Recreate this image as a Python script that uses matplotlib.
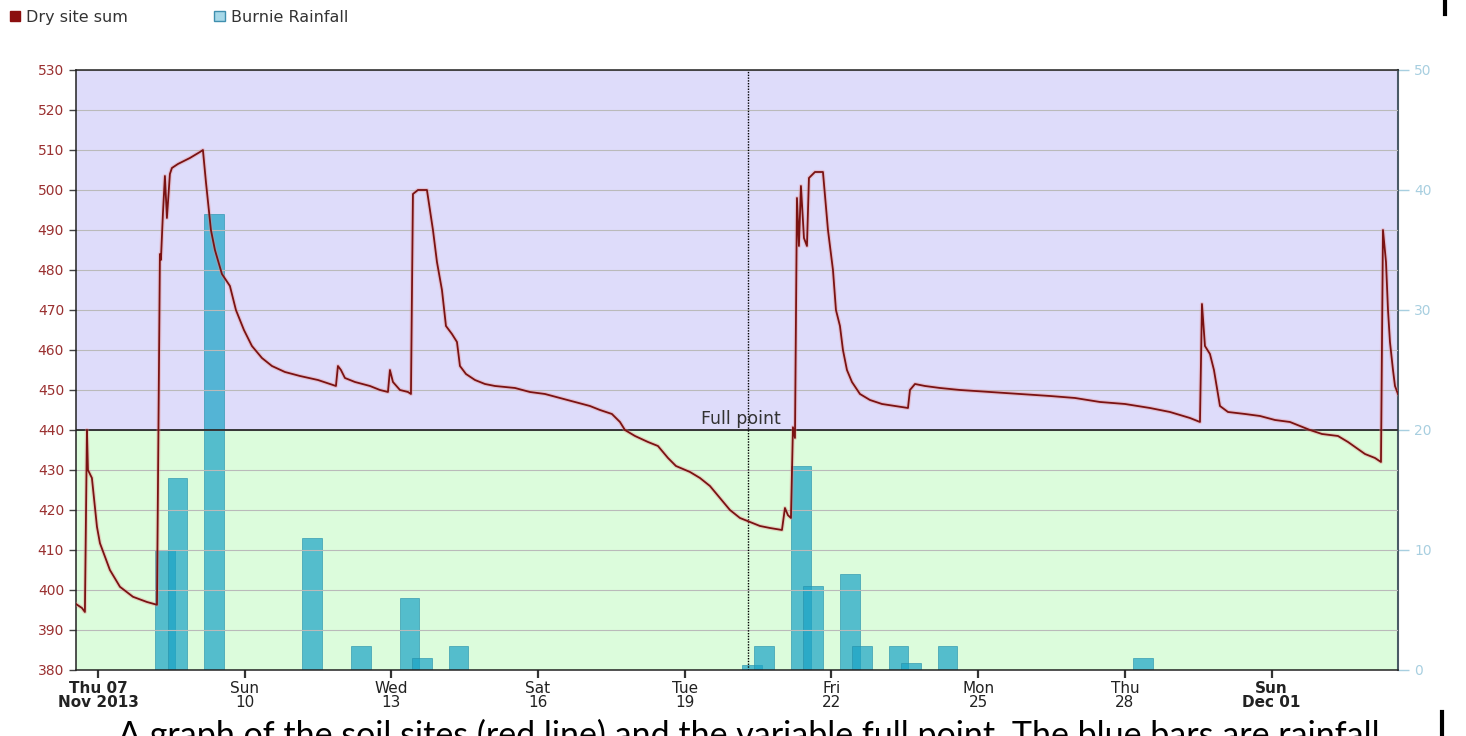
import numpy as np
import matplotlib
matplotlib.use('Agg')
import matplotlib.pyplot as plt
from matplotlib.patches import Patch, Rectangle
from matplotlib.lines import Line2D
from matplotlib.transforms import blended_transform_factory

plt.rcParams['font.family'] = ['DejaVu Sans']

# ---- data (x values are day-of-November 2013, 31 = Dec 01) ----
moist_day = [6.550, 6.673, 6.734, 6.775, 6.796, 6.877, 6.980, 7.041, 7.245, 7.450,
             7.716, 8.002, 8.207, 8.268, 8.288, 8.329, 8.370, 8.411, 8.472, 8.513,
             8.636, 8.881, 9.086, 9.147, 9.209, 9.311, 9.393, 9.536, 9.699, 9.822,
             9.986, 10.149, 10.354, 10.558, 10.824, 11.131, 11.499, 11.744, 11.867, 11.908,
             11.969, 12.051, 12.256, 12.562, 12.767, 12.931, 12.971, 13.033, 13.176, 13.340,
             13.401, 13.442, 13.544, 13.728, 13.851, 13.933, 14.035, 14.117, 14.239, 14.342,
             14.403, 14.526, 14.710, 14.914, 15.119, 15.528, 15.834, 16.141, 16.448, 16.755,
             17.061, 17.266, 17.511, 17.675, 17.777, 17.982, 18.248, 18.452, 18.657, 18.820,
             19.107, 19.311, 19.515, 19.720, 19.924, 20.129, 20.333, 20.538, 20.742, 20.988,
             21.049, 21.110, 21.172, 21.213, 21.254, 21.295, 21.335, 21.376, 21.438, 21.499,
             21.540, 21.663, 21.826, 21.929, 22.031, 22.092, 22.174, 22.235, 22.317, 22.419,
             22.583, 22.787, 23.033, 23.299, 23.565, 23.605, 23.708, 23.912, 24.219, 24.628,
             25.241, 25.855, 26.468, 26.980, 27.491, 28.002, 28.513, 28.922, 29.331, 29.536,
             29.577, 29.638, 29.740, 29.822, 29.904, 29.945, 30.109, 30.456, 30.763, 31.070,
             31.376, 31.581, 31.785, 32.031, 32.358, 32.563, 32.910, 33.115, 33.237, 33.278,
             33.340, 33.381, 33.421, 33.483, 33.524, 33.585]
moist_val = [396.5, 395.5, 394.5, 440.0, 430.0, 428.0, 415.8, 411.7, 405.0, 400.8,
             398.3, 397.0, 396.3, 484.0, 482.5, 494.0, 503.5, 493.0, 504.0, 505.5,
             506.5, 508.0, 509.5, 510.0, 502.0, 490.0, 485.0, 479.0, 476.0, 470.0,
             465.0, 461.0, 458.0, 456.0, 454.5, 453.5, 452.5, 451.5, 451.0, 456.0,
             455.0, 453.0, 452.0, 451.0, 450.0, 449.5, 455.0, 452.0, 450.0, 449.5,
             449.0, 499.0, 500.0, 500.0, 490.0, 482.0, 475.0, 466.0, 464.0, 462.0,
             456.0, 454.0, 452.5, 451.5, 451.0, 450.5, 449.5, 449.0, 448.0, 447.0,
             446.0, 445.0, 444.0, 442.0, 440.0, 438.5, 437.0, 436.0, 433.0, 431.0,
             429.5, 428.0, 426.0, 423.0, 420.0, 418.0, 417.0, 416.0, 415.5, 415.0,
             420.5, 418.7, 418.0, 440.7, 438.0, 498.0, 486.0, 501.0, 488.0, 486.0,
             503.0, 504.5, 504.5, 490.0, 480.0, 470.0, 466.0, 460.0, 455.0, 452.0,
             449.0, 447.5, 446.5, 446.0, 445.5, 450.0, 451.5, 451.0, 450.5, 450.0,
             449.5, 449.0, 448.5, 448.0, 447.0, 446.5, 445.5, 444.5, 443.0, 442.0,
             471.5, 461.0, 459.0, 455.0, 449.0, 446.0, 444.5, 444.0, 443.5, 442.5,
             442.0, 441.0, 440.0, 439.0, 438.5, 437.0, 434.0, 433.0, 432.0, 490.0,
             482.0, 470.0, 462.0, 455.0, 451.0, 449.0]

# rainfall (mm): 9am readings and 3pm readings
rain_day = [8.375, 9.375, 11.375, 12.375, 13.375, 14.375, 20.375, 21.375, 22.375,
            23.375, 24.375, 28.375,
            8.625, 13.625, 20.625, 21.625, 22.625, 23.625]
rain_mm = [10, 38, 11, 2, 6, 2, 0.4, 17, 8, 2, 2, 1,
           16, 1, 2, 7, 2, 0.6]

full_point = 440
marker_day = 20.29
x_range = [6.55, 33.585]

tick_day = [7, 10, 13, 16, 19, 22, 25, 28, 31]
tick_labels = ['Thu 07\nNov 2013', 'Sun\n10', 'Wed\n13', 'Sat\n16', 'Tue\n19',
               'Fri\n22', 'Mon\n25', 'Thu\n28', 'Sun\nDec 01']

caption = ('A graph of the soil sites (red line) and the variable full point. '
           'The blue bars are rainfall')


def to_time(days):
    base = np.datetime64('2013-10-31T00:00')
    return base + (np.asarray(days, dtype=float) * 24 * 60).astype('timedelta64[m]')


fig = plt.figure(figsize=(14.66, 7.36), dpi=100)
ax = fig.add_axes([0.0518, 0.0897, 0.9018, 0.8152])
ax2 = ax.twinx()
ax.set_zorder(ax2.get_zorder() + 1)
ax.patch.set_visible(False)

# background bands (left axis units) drawn behind the bars
band = blended_transform_factory(ax2.transAxes, ax.transData)
ax2.add_patch(Rectangle((0, 380), 1, full_point - 380, transform=band,
                        facecolor='#dcfcdc', edgecolor='none', zorder=0))
ax2.add_patch(Rectangle((0, full_point), 1, 530 - full_point, transform=band,
                        facecolor='#dedcfa', edgecolor='none', zorder=0))

# rainfall bars
ax2.bar(to_time(rain_day), rain_mm, width=0.4, color='#1aa3c6', alpha=0.7,
        edgecolor='#2590aa', linewidth=0.6, zorder=2)
ax2.set_ylim(0, 50)
ax2.set_yticks(range(0, 51, 10))
ax2.tick_params(axis='y', colors='#a8cfe0', labelsize=10, length=8, width=1)
for s in ['top', 'left', 'bottom']:
    ax2.spines[s].set_visible(False)
ax2.spines['right'].set_color('#4a5a66')
ax2.spines['right'].set_linewidth(1.5)

# soil moisture line
t = to_time(moist_day)
ax.plot(t, moist_val, color='#e88a8a', lw=3.0, alpha=0.35, zorder=3)
ax.plot(t, moist_val, color='#7a1212', lw=1.3, zorder=4)

ax.axhline(full_point, color='#2a2a2a', lw=1.3, zorder=2)
ax.text(to_time([20.15])[0], full_point + 0.5, 'Full point', ha='center', va='bottom',
        fontsize=12.5, color='#333333', zorder=5)
ax.axvline(to_time([marker_day])[0], color='black', lw=1, ls=(0, (1, 1)), zorder=2)

ax.set_ylim(380, 530)
ax.set_yticks(range(380, 531, 10))
ax.grid(axis='y', color='#bababa', lw=0.8)
ax.grid(axis='x', visible=False)
ax.tick_params(axis='y', colors='#9a3030', labelsize=10, length=5, width=1)
ax.tick_params(axis='y', color='#444444')

ax.set_xlim(to_time(x_range))
ax.set_xticks(to_time(tick_day))
ax.set_xticklabels(tick_labels, fontsize=11, color='#222222', linespacing=0.95)
ax.tick_params(axis='x', length=6, width=1.6, color='#333333', pad=2)
for lab in (ax.get_xticklabels()[0], ax.get_xticklabels()[-1]):
    lab.set_fontweight('bold')

for s in ['top', 'left', 'bottom']:
    ax.spines[s].set_color('#222222')
    ax.spines[s].set_linewidth(1.1)
ax.spines['right'].set_visible(False)

# legend
handles = [Patch(facecolor='#8b0f0f', edgecolor='#8b0f0f'),
           Patch(facecolor='#a6d8e8', edgecolor='#3f8fae')]
fig.legend(handles, ['Dry site sum', 'Burnie Rainfall'], loc='upper left',
           bbox_to_anchor=(0.0, 1.0), ncol=2, frameon=False, fontsize=11.5,
           handlelength=0.65, handleheight=0.65, handletextpad=0.4,
           columnspacing=5.4, borderaxespad=0.2, labelcolor='#333333')

# caption cut off at the bottom of the screenshot, as in the source
fig.text(118 / 1466, 1 - 719 / 736, caption, va='top', ha='left', fontsize=24.5,
         family='Lato', color='black')

# stray page marks on the right
fig.add_artist(Line2D([1445 / 1466] * 2, [1, 1 - 14 / 736], color='black', lw=3,
                      transform=fig.transFigure))
fig.add_artist(Line2D([1442 / 1466] * 2, [0, 24 / 736], color='black', lw=3,
                      transform=fig.transFigure))

fig.savefig('out.png', dpi=100)
